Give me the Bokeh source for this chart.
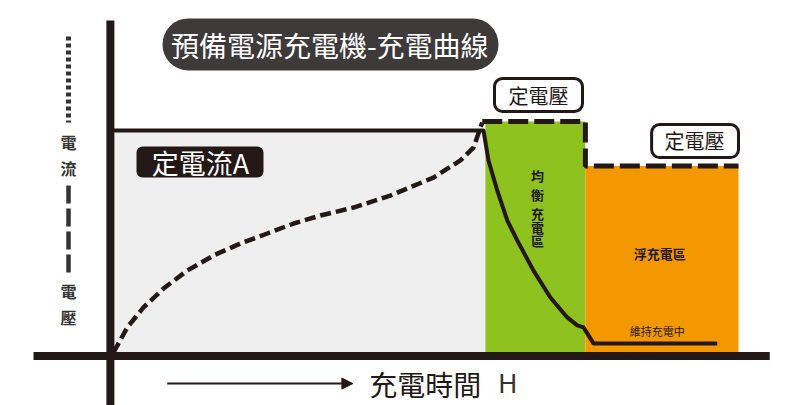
from bokeh.plotting import figure
from bokeh.models import Range1d, BoxAnnotation, Arrow, NormalHead
from bokeh.core.properties import value
from bokeh.embed import file_html
from bokeh.resources import INLINE

# ---------------- data (schematic units: time 0..100, level 0..100) ----------------
# charging stages: constant current, equalizing (constant voltage), float (constant voltage)
stage_names = ["定電流", "均衡充電區", "浮充電區"]
stage_start = [0.0, 59.5, 75.5]
stage_end = [59.5, 75.5, 100.0]
stage_top = [100.0, 104.0, 84.0]
stage_colors = ["#efefef", "#8dc21f", "#f39800"]

# voltage curve (dashed) during constant-current stage
volt_t = [0.0, 2.2, 4.8, 8.0, 11.8, 16.0, 20.3, 24.6, 28.8, 33.1, 38.4, 44.3, 51.2, 55.5, 57.6, 59.0]
volt_v = [0.0, 11.3, 20.3, 28.8, 36.9, 43.7, 49.1, 53.6, 58.1, 61.7, 65.3, 70.7, 78.8, 86.5, 92.3, 103.6]

# constant voltage levels (dashed step)
cv_t = [59.0, 75.5, 75.5, 100.0]
cv_v = [104.0, 104.0, 84.0, 84.0]

# current curve (solid)
cur_t = [0.0, 59.2, 60.0, 61.4, 63.0, 64.6, 67.2, 69.9, 72.6, 74.2, 75.2, 76.8, 96.6]
cur_v = [100.0, 100.0, 86.5, 73.0, 59.5, 50.5, 36.9, 24.8, 15.8, 12.2, 11.3, 4.1, 4.1]

INK = "#231815"
CJK = value("Noto Sans CJK TC")

p = figure(width=800, height=405,
           x_range=Range1d(-18.08, 109.92), y_range=Range1d(-23.87, 158.56),
           output_backend="svg", toolbar_location=None, min_border=0)
p.axis.visible = False
p.grid.visible = False
p.outline_line_color = None
p.background_fill_color = "white"
p.border_fill_color = "white"

# stage regions
p.quad(left=stage_start, right=stage_end, bottom=0, top=stage_top,
       fill_color=stage_colors, line_color=None)

# axes drawn as thick strokes
p.line([-12.8, 105.0], [-1.6, -1.6], line_width=8, line_color=INK)
p.line([-0.5, -0.5], [149.5, -30.0], line_width=8, line_color=INK)

# legend strokes at left
p.line([-7.2, -7.2], [142.3, 103.6], line_width=5, line_color="#333333", line_dash="4 3")
p.line([-7.2, -7.2], [75.2, 33.8], line_width=4.5, line_color="#333333", line_dash="18 5")

TXT = dict(text_font=CJK, text_align="center", text_baseline="middle", level="overlay")

p.text(x=[-7.2, -7.2], y=[94.6, 83.3], text=["電", "流"],
       text_font_size="16px", text_font_style="bold", text_color="#333333", **TXT)
p.text(x=[-7.2, -7.2], y=[27.9, 15.8], text=["電", "壓"],
       text_font_size="16px", text_font_style="bold", text_color="#333333", **TXT)

# curves
p.line(cur_t, cur_v, line_width=4, line_color=INK, line_join="round")
p.line(volt_t, volt_v, line_width=4.5, line_color=INK, line_dash="11 5")
p.line(cv_t, cv_v, line_width=5, line_color=INK, line_dash="20 6")

# title pill
p.add_layout(BoxAnnotation(left=7.84, right=61.6, bottom=127.0, top=150.5,
                           fill_color="#3e3a39", fill_alpha=1, line_color=None,
                           border_radius=26))
p.text(x=[34.6], y=[138.7], text=["預備電源充電機-充電曲線"],
       text_font_size="28px", text_color="white", **TXT)

# constant current tag
p.add_layout(BoxAnnotation(left=3.68, right=24.0, bottom=78.8, top=92.8,
                           fill_color=INK, fill_alpha=1, line_color=None,
                           border_radius=6))
p.text(x=[13.9], y=[85.6], text=["定電流A"],
       text_font_size="27px", text_color="white", **TXT)

# constant voltage tags
for l, r, b, t, cx, cy in [(60.96, 75.04, 108.6, 123.4, 68.0, 115.8),
                           (86.1, 100.0, 87.8, 102.7, 92.96, 95.3)]:
    p.add_layout(BoxAnnotation(left=l, right=r, bottom=b, top=t,
                               fill_color="white", fill_alpha=1, line_color=INK,
                               line_width=3, line_alpha=1, border_radius=8))
    p.text(x=[cx], y=[cy], text=["定電壓"], text_font_size="20px",
           text_color=INK, **TXT)

# equalizing zone vertical label
p.text(x=[67.84] * 5, y=[79.7, 71.2, 62.6, 56.3, 50.5],
       text=["均", "衡", "充", "電", "區"], text_font_size="13px",
       text_font_style="bold", text_color=INK, **TXT)

# float zone labels
p.text(x=[87.4], y=[44.6], text=["浮充電區"], text_font_size="13px",
       text_font_style="bold", text_color=INK, **TXT)
p.text(x=[87.0], y=[9.5], text=["維持充電中"], text_font_size="11px",
       text_color=INK, **TXT)

# time arrow + label
p.add_layout(Arrow(end=NormalHead(size=11, fill_color=INK, line_color=INK),
                   x_start=8.6, y_start=-14.0, x_end=38.3, y_end=-14.0,
                   line_width=2, line_color=INK))
p.text(x=[40.9], y=[-14.4], text=["充電時間"], text_font=CJK, text_font_size="28px",
       text_color=INK, text_align="left", text_baseline="middle", level="overlay")
p.text(x=[61.6], y=[-14.4], text=["H"], text_font=value("Roboto"),
       text_font_size="26px", text_color="#333333", text_align="left",
       text_baseline="middle", level="overlay")

open("out.html", "w").write(file_html(p, INLINE))
